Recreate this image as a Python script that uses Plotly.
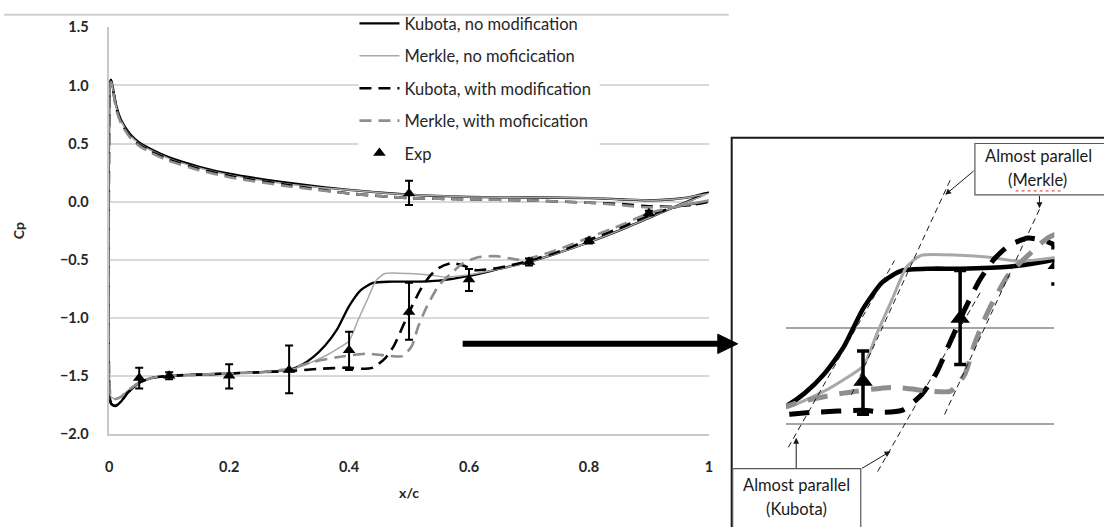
import plotly.graph_objects as go

W, H = 1104, 527

# ---------------- data ----------------
# upper (pressure) side, from trailing edge to leading edge
x_up = [1.0, 0.97, 0.94, 0.9, 0.85, 0.8, 0.7, 0.6, 0.5, 0.4, 0.3, 0.2, 0.15, 0.1,
        0.07, 0.05, 0.035, 0.02, 0.012, 0.006, 0.003, 0.001, 0.0]
cp_up_kubota = [0.08, 0.04, 0.02, 0.01, 0.02, 0.03, 0.035, 0.04, 0.06, 0.10, 0.16, 0.24, 0.30, 0.38,
                0.45, 0.51, 0.58, 0.70, 0.82, 0.98, 1.05, 1.02, 0.80]
cp_up_merkle = [0.07, 0.04, 0.02, 0.01, 0.02, 0.03, 0.035, 0.04, 0.06, 0.10, 0.15, 0.23, 0.29, 0.37,
                0.44, 0.50, 0.57, 0.69, 0.81, 0.97, 1.04, 1.01, 0.80]
cp_up_kubota_mod = [0.00, -0.03, -0.04, -0.04, -0.02, -0.01, 0.01, 0.02, 0.03, 0.07, 0.14, 0.22, 0.28, 0.36,
                    0.43, 0.49, 0.56, 0.68, 0.80, 0.97, 1.04, 1.01, 0.80]
cp_up_merkle_mod = [0.01, -0.02, -0.04, -0.05, -0.03, -0.01, 0.01, 0.02, 0.03, 0.07, 0.13, 0.21, 0.27, 0.35,
                    0.42, 0.48, 0.55, 0.67, 0.79, 0.96, 1.03, 1.00, 0.80]

# lower (suction) side, from leading edge to trailing edge
x_lo_kubota = [0.0, 0.003, 0.01, 0.02, 0.03, 0.05, 0.07, 0.1, 0.15, 0.2, 0.25, 0.3, 0.32, 0.34, 0.36,
               0.38, 0.40, 0.42, 0.44, 0.47, 0.5, 0.55, 0.6, 0.65, 0.7, 0.75, 0.8, 0.85, 0.9, 0.95, 1.0]
cp_lo_kubota = [-1.60, -1.74, -1.76, -1.72, -1.65, -1.56, -1.52, -1.50, -1.49, -1.48, -1.47, -1.45, -1.41,
                -1.34, -1.24, -1.10, -0.90, -0.76, -0.70, -0.69, -0.69, -0.68, -0.64, -0.58, -0.52, -0.44,
                -0.35, -0.25, -0.14, -0.03, 0.08]

x_lo_merkle = [0.0, 0.003, 0.01, 0.02, 0.03, 0.05, 0.07, 0.1, 0.15, 0.2, 0.25, 0.3, 0.33, 0.36, 0.38,
               0.40, 0.415, 0.43, 0.445, 0.46, 0.5, 0.53, 0.56, 0.6, 0.65, 0.7, 0.75, 0.8, 0.85, 0.9, 0.95, 1.0]
cp_lo_merkle = [-1.55, -1.68, -1.70, -1.68, -1.63, -1.56, -1.52, -1.50, -1.49, -1.48, -1.47, -1.45, -1.40,
                -1.33, -1.27, -1.20, -1.02, -0.85, -0.68, -0.62, -0.62, -0.63, -0.65, -0.63, -0.58, -0.52,
                -0.44, -0.35, -0.25, -0.14, -0.03, 0.07]

x_lo_kubota_mod = [0.0, 0.003, 0.01, 0.02, 0.03, 0.05, 0.07, 0.1, 0.15, 0.2, 0.25, 0.3, 0.35, 0.4, 0.42,
                   0.44, 0.46, 0.475, 0.49, 0.505, 0.52, 0.535, 0.55, 0.57, 0.59, 0.61, 0.65, 0.7, 0.75,
                   0.8, 0.85, 0.9, 0.95, 1.0]
cp_lo_kubota_mod = [-1.60, -1.74, -1.76, -1.72, -1.65, -1.56, -1.52, -1.50, -1.49, -1.48, -1.47, -1.46,
                    -1.44, -1.43, -1.44, -1.43, -1.35, -1.24, -1.07, -0.90, -0.75, -0.64, -0.57, -0.53,
                    -0.55, -0.59, -0.57, -0.51, -0.43, -0.33, -0.23, -0.12, -0.04, 0.00]

x_lo_merkle_mod = [0.0, 0.003, 0.01, 0.02, 0.03, 0.05, 0.07, 0.1, 0.15, 0.2, 0.25, 0.3, 0.34, 0.38, 0.43,
                   0.47, 0.49, 0.505, 0.515, 0.53, 0.55, 0.57, 0.59, 0.615, 0.645, 0.68, 0.7, 0.75, 0.8,
                   0.85, 0.9, 0.95, 1.0]
cp_lo_merkle_mod = [-1.55, -1.68, -1.70, -1.68, -1.63, -1.56, -1.52, -1.50, -1.49, -1.48, -1.47, -1.44,
                    -1.38, -1.34, -1.31, -1.33, -1.33, -1.24, -1.08, -0.90, -0.72, -0.62, -0.53, -0.48,
                    -0.47, -0.50, -0.49, -0.41, -0.31, -0.21, -0.10, -0.04, 0.01]

# experiment
exp_x = [0.05, 0.1, 0.2, 0.3, 0.4, 0.5, 0.6, 0.7, 0.8, 0.9, 0.5]
exp_cp = [-1.52, -1.50, -1.50, -1.45, -1.28, -0.95, -0.67, -0.52, -0.34, -0.10, 0.07]
exp_err_plus = [0.09, 0.03, 0.10, 0.21, 0.16, 0.25, 0.09, 0.03, 0.02, 0.02, 0.11]
exp_err_minus = [0.09, 0.03, 0.11, 0.20, 0.17, 0.24, 0.10, 0.03, 0.02, 0.02, 0.10]

x_ticks = [0, 0.2, 0.4, 0.6, 0.8, 1]
x_tick_text = ["0", "0.2", "0.4", "0.6", "0.8", "1"]
y_ticks = [-2.0, -1.5, -1.0, -0.5, 0.0, 0.5, 1.0, 1.5]

series = [
    ("Kubota, no modification", x_up + x_lo_kubota, cp_up_kubota + cp_lo_kubota, "#000000", 2.3, 4.6, "solid", "solid"),
    ("Merkle, no moficication", x_up + x_lo_merkle, cp_up_merkle + cp_lo_merkle, "#a8a8a8", 1.5, 3.0, "solid", "solid"),
    ("Kubota, with modification", x_up + x_lo_kubota_mod, cp_up_kubota_mod + cp_lo_kubota_mod, "#000000", 2.6, 5.0, "12px,7px", "20px,12px"),
    ("Merkle, with moficication", x_up + x_lo_merkle_mod, cp_up_merkle_mod + cp_lo_merkle_mod, "#8e8e8e", 2.6, 5.0, "12px,7px", "20px,12px"),
]

FONT = "Lato"


def px(v):
    return v / W


def py(v):
    return (H - v) / H


fig = go.Figure()

for i, (name, xs, ys, col, w, w2, d, d2) in enumerate(series):
    fig.add_trace(go.Scatter(x=xs, y=ys, mode="lines", name=name, legendgroup=str(i),
                             line=dict(color=col, width=w, dash=d, shape="spline", smoothing=0.6),
                             xaxis="x", yaxis="y"))

fig.add_trace(go.Scatter(x=exp_x, y=exp_cp, mode="markers", name="Exp", legendgroup="4",
                         marker=dict(symbol="triangle-up", size=11, color="#000000"),
                         error_y=dict(type="data", symmetric=False, array=exp_err_plus,
                                      arrayminus=exp_err_minus, color="#000000", thickness=2, width=4),
                         xaxis="x", yaxis="y"))

# inset (zoomed) copies
for i, (name, xs, ys, col, w, w2, d, d2) in enumerate(series):
    fig.add_trace(go.Scatter(x=xs, y=ys, mode="lines", name=name, showlegend=False,
                             line=dict(color=col, width=w2, dash=d2, shape="spline", smoothing=0.6),
                             xaxis="x2", yaxis="y2"))
fig.add_trace(go.Scatter(x=exp_x, y=exp_cp, mode="markers", name="Exp", showlegend=False,
                         marker=dict(symbol="triangle-up", size=17, color="#000000"),
                         error_y=dict(type="data", symmetric=False, array=exp_err_plus,
                                      arrayminus=exp_err_minus, color="#000000", thickness=3.5, width=6),
                         xaxis="x2", yaxis="y2"))

tickfont = dict(family=FONT, size=14.5, color="#262626", weight="bold")
titlefont = dict(family=FONT, size=14, color="#262626", weight="bold")

fig.update_layout(
    width=W, height=H,
    margin=dict(l=0, r=0, t=0, b=0),
    paper_bgcolor="white", plot_bgcolor="rgba(0,0,0,0)",
    font=dict(family=FONT, color="#262626"),
    xaxis=dict(domain=[px(106), px(710)], range=[0, 1], tickvals=x_ticks, ticktext=x_tick_text,
               showgrid=False, zeroline=False, showline=True, linecolor="#c8c8c8", linewidth=1.5,
               ticks="", tickfont=tickfont, ticklabelstandoff=19,
               title=dict(text="x/c", font=titlefont, standoff=14),
               anchor="y", fixedrange=True),
    yaxis=dict(domain=[py(439), py(19)], range=[-2.0, 1.5], tickvals=y_ticks, tickformat=".1f",
               showgrid=True, gridcolor="#d9d9d9", gridwidth=1.5, zeroline=False,
               showline=True, linecolor="#c8c8c8", linewidth=1.5, ticks="", tickfont=tickfont,
               ticklabelstandoff=16,
               title=dict(text="Cp", font=titlefont, standoff=32),
               anchor="x", fixedrange=True),
    xaxis2=dict(domain=[px(788), px(1058)], range=[0.321, 0.597], showgrid=False, zeroline=False,
                showline=False, showticklabels=False, ticks="", anchor="y2", fixedrange=True),
    yaxis2=dict(domain=[py(478), py(211)], range=[-1.75, -0.40], tickvals=[-1.5, -1.0], showgrid=True,
                gridcolor="#a6a6a6", gridwidth=2, zeroline=False, showline=False, showticklabels=False,
                ticks="", anchor="x2", fixedrange=True),
    legend=dict(x=px(353), y=py(-3), xanchor="left", yanchor="top", bgcolor="rgba(0,0,0,0)",
                font=dict(family=FONT, size=16.5, color="#262626"), tracegroupgap=8,
                itemwidth=40, traceorder="grouped"),
    showlegend=True,
)

shapes = []
# white backing behind the legend (hides gridlines, keeps traces)
shapes.append(dict(type="rect", xref="x", yref="y", x0=(357 - 106) / 604, x1=(600 - 106) / 604,
                   y0=(199 - 172) / 120, y1=1.6, fillcolor="white", line=dict(width=0), layer="between"))
# chart area top border
shapes.append(dict(type="line", xref="paper", yref="paper", x0=0, x1=px(730), y0=py(6), y1=py(6),
                   line=dict(color="#d0d0d0", width=2)))
# inset frame
shapes.append(dict(type="rect", xref="paper", yref="paper", x0=px(733), x1=px(1112), y0=py(540), y1=py(133),
                   line=dict(color="#1a1a1a", width=2), layer="below"))
# big arrow from main chart to inset
shapes.append(dict(type="line", xref="paper", yref="paper", x0=px(462), x1=px(722), y0=py(346), y1=py(346),
                   line=dict(color="#000000", width=6)))
shapes.append(dict(type="path", xref="paper", yref="paper",
                   path=f"M{px(719)},{py(336)} L{px(739)},{py(346)} L{px(719)},{py(356)} Z",
                   fillcolor="#000000", line=dict(color="#000000", width=1)))
# "almost parallel" guide lines
guides = [((790, 453), (897, 260)), ((880, 478), (985, 290)),
          ((953, 177), (853, 400)), ((1043, 207), (947, 420))]
for (a, b) in guides:
    shapes.append(dict(type="line", xref="paper", yref="paper", x0=px(a[0]), y0=py(a[1]),
                       x1=px(b[0]), y1=py(b[1]), line=dict(color="#1a1a1a", width=1, dash="6px,4px")))
# text boxes
shapes.append(dict(type="rect", xref="paper", yref="paper", x0=px(978), x1=px(1112), y0=py(192), y1=py(139),
                   line=dict(color="#595959", width=1.2), fillcolor="white"))
shapes.append(dict(type="rect", xref="paper", yref="paper", x0=px(734), x1=px(863), y0=py(540), y1=py(475),
                   line=dict(color="#595959", width=1.2), fillcolor="white"))
# spell-check underline
shapes.append(dict(type="line", xref="paper", yref="paper", x0=px(1019), x1=px(1066), y0=py(188), y1=py(188),
                   line=dict(color="#e03030", width=1, dash="dot")))
fig.update_layout(shapes=shapes)

afont = dict(family=FONT, size=16.5, color="#1a1a1a")
annotations = [
    dict(text="Almost parallel", x=px(1042), y=py(152), xref="paper", yref="paper", showarrow=False,
         xanchor="center", yanchor="middle", font=afont),
    dict(text="(Merkle)", x=px(1041), y=py(177), xref="paper", yref="paper", showarrow=False,
         xanchor="center", yanchor="middle", font=afont),
    dict(text="Almost parallel", x=px(798), y=py(492), xref="paper", yref="paper", showarrow=False,
         xanchor="center", yanchor="middle", font=afont),
    dict(text="(Kubota)", x=px(798), y=py(517), xref="paper", yref="paper", showarrow=False,
         xanchor="center", yanchor="middle", font=afont),
]
# small arrows from boxes to guide lines (head at x,y; tail offset ax,ay in px)
arrows = [((948, 192), (978, 167)), ((1043, 206), (1043, 192)),
          ((798, 443), (798, 475)), ((893, 457), (863, 475))]
for head, tail in arrows:
    annotations.append(dict(text="", x=px(head[0]), y=py(head[1]), xref="paper", yref="paper",
                            ax=tail[0] - head[0], ay=tail[1] - head[1], showarrow=True,
                            arrowhead=2, arrowsize=1.2, arrowwidth=1, arrowcolor="#1a1a1a"))
fig.update_layout(annotations=annotations)

fig.write_html("out.html")
